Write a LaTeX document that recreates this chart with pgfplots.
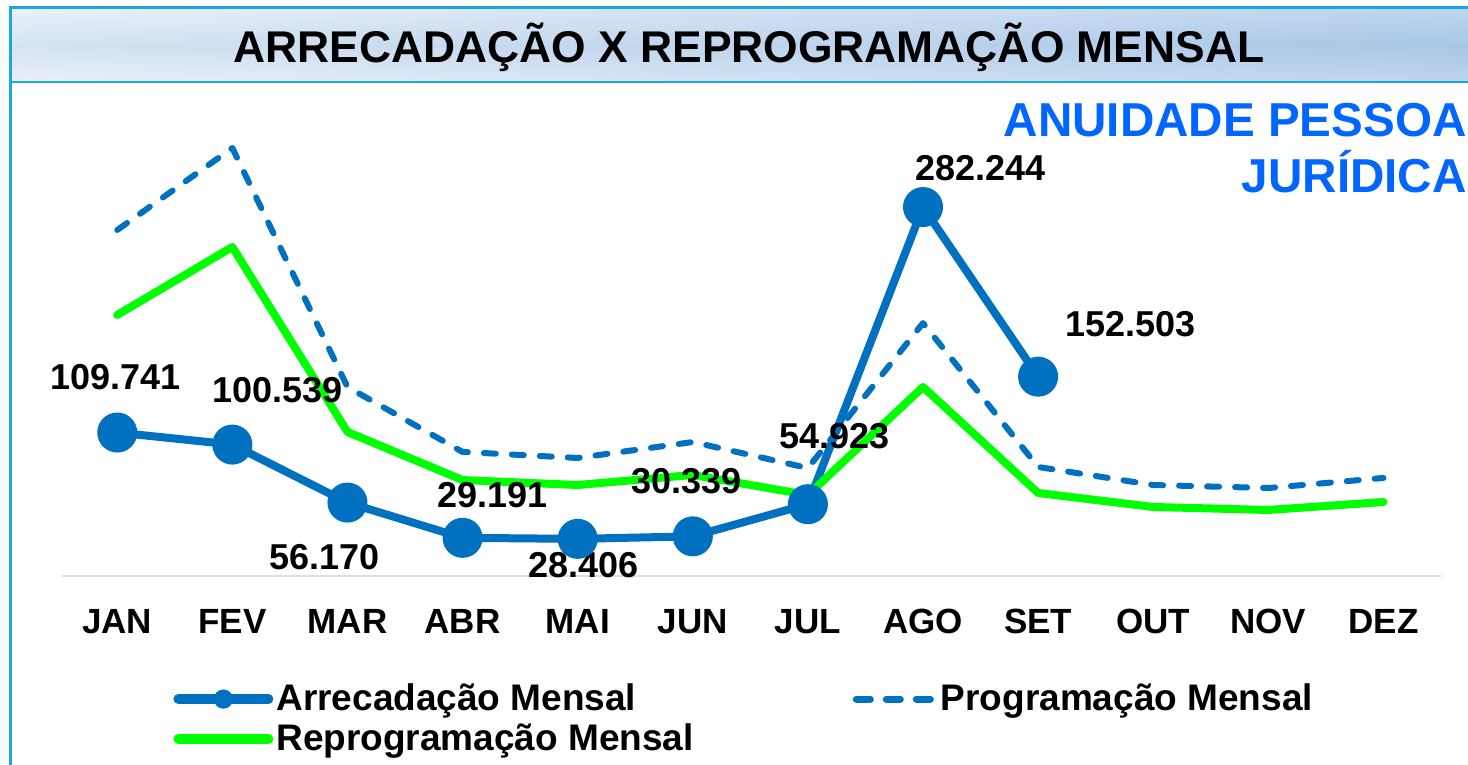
\documentclass[border=0pt]{standalone}
\usepackage{fontspec}
\setmainfont{Liberation Sans}
\usepackage{pgfplots}
\pgfplotsset{compat=1.18}

\definecolor{serieblue}{HTML}{0070C0}
\definecolor{seriegreen}{HTML}{00FF00}
\definecolor{framecyan}{HTML}{1AA7E8}
\definecolor{titleA}{HTML}{E4EDF7}
\definecolor{titleB}{HTML}{A9C7E7}
\definecolor{notecol}{HTML}{0066FF}

% monthly values (R$)
\pgfplotstableread{
x  arrec   prog    reprog
0  109741  264700  199700
1  100539  327400  251700
2  56170   144600  110200
3  29191   94900   73400
4  28406   90300   69600
5  30339   102500  77300
6  54923   82600   62000
7  282244  193500  144600
8  152503  83400   63500
9  nan     69600   52800
10 nan     67300   50500
11 nan     75000   56600
}\datatable

\begin{document}
\begin{tikzpicture}[x=0.5pt, y=0.5pt]
% picture in pixel units, 1468 x 765, y measured upwards
\fill[white] (0,0) rectangle (1468,765);
\useasboundingbox (0,0) rectangle (1468,765);

% title bar
\shade[left color=titleA, right color=titleB] (10,683) rectangle (1468,757);
\shade[top color=white, bottom color=white, middle color=titleB, opacity=0.25] (10,683) rectangle (1468,757);
\draw[framecyan, line width=1.5pt] (10,0) -- (10,757) -- (1468,757);
\draw[framecyan, line width=1.2pt] (10,683) -- (1468,683);
\node[anchor=base west, inner sep=0pt, font=\fontsize{22.2}{26}\selectfont\bfseries]
  at (233,702) {ARRECADAÇÃO X REPROGRAMAÇÃO MENSAL};

\node[anchor=base east, inner sep=0pt, text=notecol, font=\fontsize{23.8}{28}\selectfont\bfseries]
  at (1467,628) {ANUIDADE PESSOA};
\node[anchor=base east, inner sep=0pt, text=notecol, font=\fontsize{23.8}{28}\selectfont\bfseries]
  at (1467,572) {JURÍDICA};

\begin{axis}[
  at={(31pt,94.5pt)}, anchor=south west,
  scale only axis, width=689.5pt, height=238pt,
  xmin=-0.48, xmax=11.5, ymin=0, ymax=364140,
  axis x line*=bottom, axis y line=none,
  x axis line style={gray!25, line width=0.8pt, -},
  xtick={0,...,11}, major tick length=0pt,
  xticklabels={JAN,FEV,MAR,ABR,MAI,JUN,JUL,AGO,SET,OUT,NOV,DEZ},
  xticklabel style={anchor=base, yshift=-29pt, font=\fontsize{17.5}{20}\selectfont\bfseries},
  ytick=\empty,
  clip=false,
  legend columns=2,
  legend cell align=left,
  legend style={draw=none, fill=none, inner sep=0pt,
    at={(0.0805,-0.218)}, anchor=north west,
    font=\fontsize{18.5}{22}\selectfont\bfseries,
    nodes={inner xsep=1.5pt},
    /tikz/every even column/.append style={column sep=78pt},
    row sep=1pt},
]
\addplot[serieblue, line width=4pt, line join=round, mark=*, mark size=8pt,
  mark options={solid}, unbounded coords=jump,
  legend image code/.code={
    \draw[serieblue, line width=5pt, line cap=round] (0pt,0pt) -- (45pt,0pt);
    \path[fill=serieblue, draw=none] (22.5pt,0pt) circle[radius=4.8pt];}]
  table[x=x, y=arrec] {\datatable};
\addlegendentry{Arrecadação Mensal}

\addplot[serieblue, line width=3pt, line join=round, line cap=round,
  dash pattern=on 6pt off 8pt,
  legend image code/.code={
    \draw[serieblue, line width=3.5pt, line cap=round, dash pattern=on 7pt off 8pt] (2pt,0pt) -- (41pt,0pt);}]
  table[x=x, y=prog] {\datatable};
\addlegendentry{Programação Mensal}

\addplot[seriegreen, line width=4pt, line join=round, line cap=round,
  legend image code/.code={
    \draw[seriegreen, line width=5pt, line cap=round] (0pt,0pt) -- (45pt,0pt);}]
  table[x=x, y=reprog] {\datatable};
\addlegendentry{Reprogramação Mensal}

% data labels of Arrecadação Mensal
\begin{scope}[every node/.style={anchor=base, inner sep=0pt, font=\fontsize{18}{21}\selectfont\bfseries}]
\node at (axis cs:-0.017,142290) {109.741};
\node at (axis cs:1.390,132345) {100.539};
\node at (axis cs:1.798,4590) {56.170};
\node at (axis cs:3.258,52020) {29.191};
\node at (axis cs:4.049,-1530) {28.406};
\node at (axis cs:4.944,62730) {30.339};
\node at (axis cs:6.229,97155) {54.923};
\node at (axis cs:7.498,302175) {282.244};
\node at (axis cs:8.800,182835) {152.503};
\end{scope}
\end{axis}
\end{tikzpicture}
\end{document}
